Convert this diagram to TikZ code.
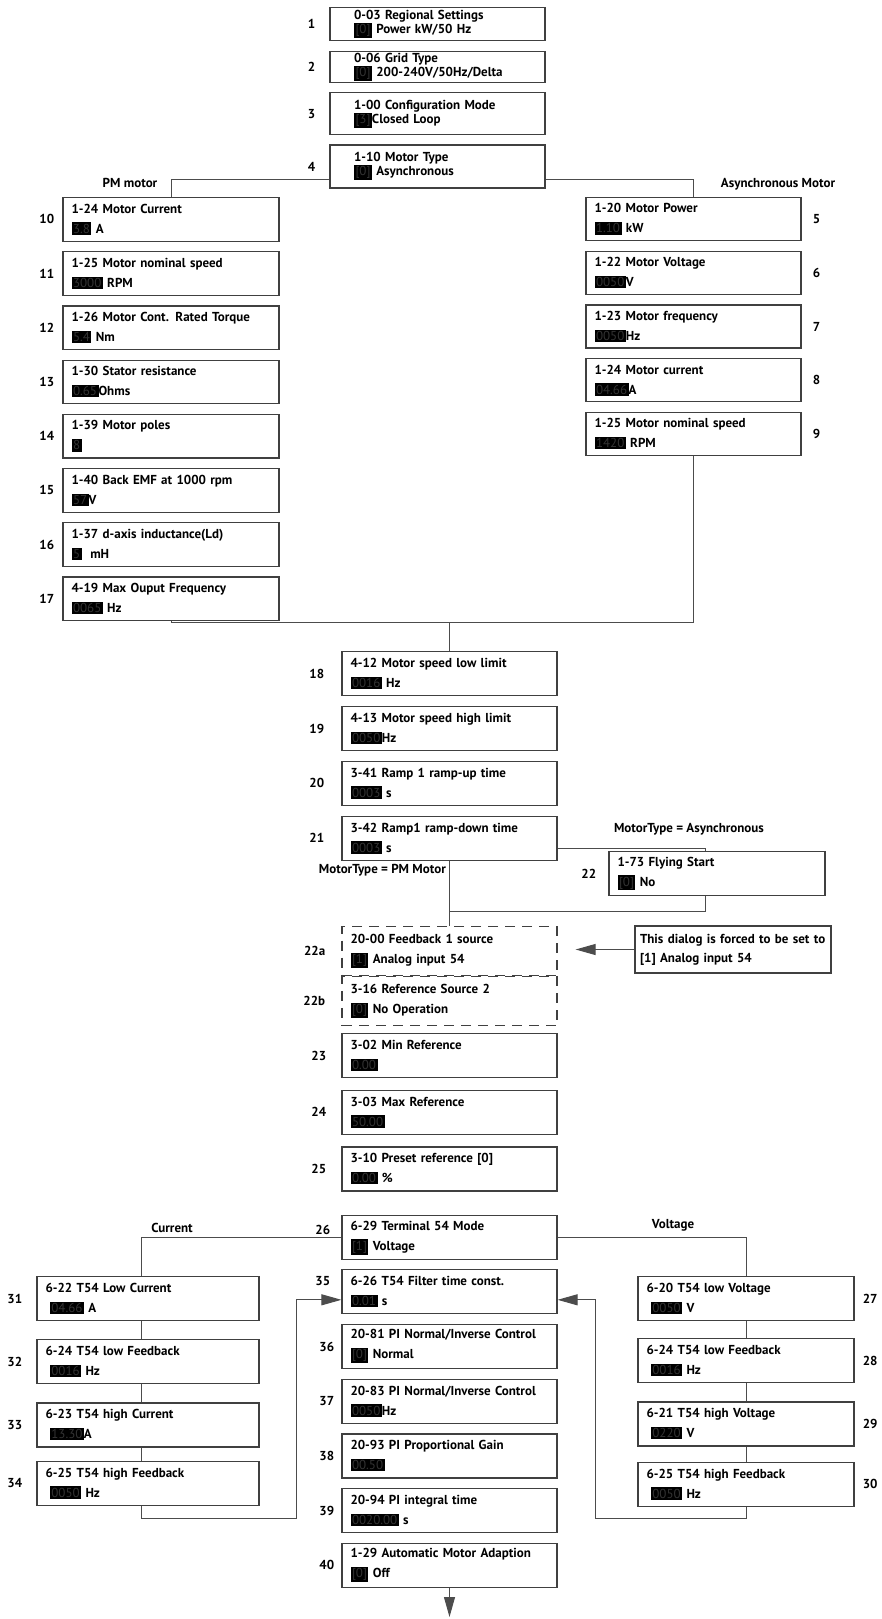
\documentclass[tikz,border=0pt]{standalone}
\usepackage{fontspec}
\setmainfont{PT Sans}
\usepackage{xcolor}
\usepackage{tikz}
\usetikzlibrary{arrows.meta,positioning}
\definecolor{valgray}{gray}{0.2}
\newcommand{\pval}[1]{{\setlength{\fboxsep}{1.5pt}\colorbox{black}{\textcolor{valgray}{\mdseries #1}}}}

\begin{document}
\begin{tikzpicture}[x=1pt, y=-1pt,
    pbox/.style={draw=black!75, line width=1.2pt, minimum height=43.5pt, text width=198pt, inner xsep=8.5pt, align=left, font=\bfseries\fontsize{13}{20}\selectfont},
    tbox/.style={pbox, text width=167pt, inner xsep=24pt, inner ysep=1.5pt, font=\bfseries\fontsize{13}{14}\selectfont},
    lbox/.style={pbox, text width=199pt},
    cbox/.style={pbox, text width=205pt, inner xsep=8.5pt},
    dbox/.style={pbox, dash pattern=on 10pt off 7pt, minimum height=49pt},
    num/.style={font=\bfseries\fontsize{13}{14}\selectfont, inner sep=0pt},
    tag/.style={font=\bfseries\fontsize{13}{14}\selectfont, inner sep=1pt},
    link/.style={draw=black!70, line width=1pt},
    arr/.style={link, -{Triangle[length=20pt,width=11pt]}}
]
    \useasboundingbox (0,0) rectangle (882,1619);

    \node[tbox, minimum height=33pt, anchor=north] (p1) at (437.5,7) {0-03 Regional Settings\\\pval{[0]} Power kW/50 Hz};
    \node[tbox, minimum height=30pt, below=10pt of p1] (p2) {0-06 Grid Type\\\pval{[0]} 200-240V/50Hz/Delta};
    \node[tbox, minimum height=42pt, below=9pt of p2] (p3) {1-00 Configuration Mode\\\pval{[3]}Closed Loop};
    \node[tbox, minimum height=43pt, below=9pt of p3] (p4) {1-10 Motor Type\\\pval{[0]} Asynchronous};

    \node[lbox, anchor=north] (p10) at (171,197) {1-24 Motor Current\\\pval{3.8} A};
    \node[lbox, below=9.5pt of p10] (p11) {1-25 Motor nominal speed\\\pval{3000}\ RPM};
    \node[lbox, below=9.5pt of p11] (p12) {1-26 Motor Cont. Rated Torque\\\pval{5.4} Nm};
    \node[lbox, below=9.5pt of p12] (p13) {1-30 Stator resistance\\\pval{0.65}Ohms};
    \node[lbox, below=9.5pt of p13] (p14) {1-39 Motor poles\\\pval{8}};
    \node[lbox, below=9.5pt of p14] (p15) {1-40 Back EMF at 1000 rpm\\\pval{57}V};
    \node[lbox, below=9.5pt of p15] (p16) {1-37 d-axis inductance(Ld)\\\pval{5}\ \ mH};
    \node[lbox, below=9.5pt of p16] (p17) {4-19 Max Ouput Frequency\\\pval{0065}\ Hz};

    \node[pbox, minimum height=43pt, anchor=north] (p5) at (693.5,197) {1-20 Motor Power\\\pval{1.10} kW};
    \node[pbox, minimum height=43pt, below=9.5pt of p5] (p6) {1-22 Motor Voltage\\\pval{0050}V};
    \node[pbox, minimum height=43pt, below=9.5pt of p6] (p7) {1-23 Motor frequency\\\pval{0050}Hz};
    \node[pbox, minimum height=43pt, below=9.5pt of p7] (p8) {1-24 Motor current\\\pval{04.66}A};
    \node[pbox, minimum height=43pt, below=9.5pt of p8] (p9) {1-25 Motor nominal speed\\\pval{1420} RPM};

    \node[pbox, minimum height=44pt, anchor=north] (p18) at (449.5,651) {4-12 Motor speed low limit\\\pval{0016} Hz};
    \node[pbox, minimum height=44pt, below=9.7pt of p18] (p19) {4-13 Motor speed high limit\\\pval{0050}Hz};
    \node[pbox, minimum height=44pt, below=9.7pt of p19] (p20) {3-41 Ramp 1 ramp-up time\\\pval{0003} s};
    \node[pbox, minimum height=44pt, below=9.7pt of p20] (p21) {3-42 Ramp1 ramp-down time\\\pval{0003} s};
    \node[pbox, minimum height=44pt, text width=199pt, anchor=north] (p22) at (717,851) {1-73 Flying Start\\\pval{[0]} No};
    \node[dbox, anchor=north] (p22a) at (449.5,926) {20-00 Feedback 1 source\\\pval{[1]} Analog input 54};
    \node[dbox, below=0pt of p22a] (p22b) {3-16 Reference Source 2\\\pval{[0]} No Operation};
    \node[pbox, minimum height=47pt, text width=186pt, inner xsep=5pt, font=\bfseries\fontsize{13}{19}\selectfont] (note) at (733,949.5) {This dialog is forced to be set to\\{[1]} Analog input 54};
    \node[pbox, minimum height=44pt, anchor=north] (p23) at (449.5,1033) {3-02 Min Reference\\\pval{0.00}};
    \node[pbox, minimum height=44pt, below=11.5pt of p23] (p24) {3-03 Max Reference\\\pval{50.00}};
    \node[pbox, minimum height=44pt, below=11.5pt of p24] (p25) {3-10 Preset reference [0]\\\pval{0.00} \%};

    \node[pbox, minimum height=44pt, anchor=north] (p26) at (449.5,1215) {6-29 Terminal 54 Mode\\\pval{[1]} Voltage};
    \node[pbox, minimum height=44pt, below=9pt of p26] (p35) {6-26 T54 Filter time const.\\\pval{0.01} s};
    \node[pbox, minimum height=44pt, below=9.5pt of p35] (p36) {20-81 PI Normal/Inverse Control\\\pval{[0]}\ Normal};
    \node[pbox, minimum height=44pt, below=9.5pt of p36] (p37) {20-83 PI Normal/Inverse Control\\\pval{0050}Hz};
    \node[pbox, minimum height=44pt, below=9.5pt of p37] (p38) {20-93 PI Proportional Gain\\\pval{00.50}};
    \node[pbox, minimum height=44pt, below=9.5pt of p38] (p39) {20-94 PI integral time\\\pval{0020.00} s};
    \node[pbox, minimum height=44pt, below=9.5pt of p39] (p40) {1-29 Automatic Motor Adaption\\\pval{[0]} Off};

    \node[cbox, minimum height=44pt, anchor=north] (p31) at (148,1276) {6-22 T54 Low Current\\\ \pval{04.66} A};
    \node[cbox, minimum height=44pt, below=18pt of p31] (p32) {6-24 T54 low Feedback\\\ \pval{0016}\ Hz};
    \node[cbox, minimum height=44pt, below=18pt of p32] (p33) {6-23 T54 high Current\\\ \pval{13.30}A};
    \node[cbox, minimum height=44pt, below=13pt of p33] (p34) {6-25 T54 high Feedback\\\ \pval{0050}\ Hz};

    \node[lbox, minimum height=44pt, anchor=north] (p27) at (746,1276) {6-20 T54 low Voltage\\\ \pval{0050} V};
    \node[lbox, minimum height=44pt, below=17pt of p27] (p28) {6-24 T54 low Feedback\\\ \pval{0016}\ Hz};
    \node[lbox, minimum height=44pt, below=18pt of p28] (p29) {6-21 T54 high Voltage\\\ \pval{0220} V};
    \node[lbox, minimum height=44pt, below=15pt of p29] (p30) {6-25 T54 high Feedback\\\ \pval{0050} Hz};

    \node[num, left=14pt of p1] (n1) {1};
    \node[num, left=14pt of p2] (n2) {2};
    \node[num, left=14pt of p3] (n3) {3};
    \node[num, left=14pt of p4] (n4) {4};
    \node[num, right=11pt of p5] (n5) {5};
    \node[num, right=11pt of p6] (n6) {6};
    \node[num, right=11pt of p7] (n7) {7};
    \node[num, right=11pt of p8] (n8) {8};
    \node[num, right=11pt of p9] (n9) {9};
    \node[num, left=8pt of p10] (n10) {10};
    \node[num, left=8pt of p11] (n11) {11};
    \node[num, left=8pt of p12] (n12) {12};
    \node[num, left=8pt of p13] (n13) {13};
    \node[num, left=8pt of p14] (n14) {14};
    \node[num, left=8pt of p15] (n15) {15};
    \node[num, left=8pt of p16] (n16) {16};
    \node[num, left=8pt of p17] (n17) {17};
    \node[num, left=17pt of p18] (n18) {18};
    \node[num, left=17pt of p19] (n19) {19};
    \node[num, left=17pt of p20] (n20) {20};
    \node[num, left=17pt of p21] (n21) {21};
    \node[num, left=12pt of p22] (n22) {22};
    \node[num, left=16pt of p22a] (n22a) {22a};
    \node[num, left=16pt of p22b] (n22b) {22b};
    \node[num, left=15pt of p23] (n23) {23};
    \node[num, left=15pt of p24] (n24) {24};
    \node[num, left=15pt of p25] (n25) {25};
    \node[num, anchor=east] (n26) at ([xshift=-11pt,yshift=8pt]p26.west) {26};
    \node[num, anchor=east] (n35) at ([xshift=-11pt,yshift=11pt]p35.west) {35};
    \node[num, left=7pt of p36] (n36) {36};
    \node[num, left=7pt of p37] (n37) {37};
    \node[num, left=7pt of p38] (n38) {38};
    \node[num, left=7pt of p39] (n39) {39};
    \node[num, left=7pt of p40] (n40) {40};
    \node[num, left=14pt of p31] (n31) {31};
    \node[num, left=14pt of p32] (n32) {32};
    \node[num, left=14pt of p33] (n33) {33};
    \node[num, left=14pt of p34] (n34) {34};
    \node[num, right=8pt of p27] (n27) {27};
    \node[num, right=8pt of p28] (n28) {28};
    \node[num, right=8pt of p29] (n29) {29};
    \node[num, right=8pt of p30] (n30) {30};

    \node[tag] (pmlbl) at (130,183) {PM motor};
    \node[tag] (aslbl) at (778,184) {Asynchronous Motor};
    \node[tag] (mtas) at (689,829) {MotorType = Asynchronous};
    \node[tag, anchor=east] (mtpm) at (447,870) {MotorType = PM Motor};
    \node[tag] (curlbl) at (172,1228) {Current};
    \node[tag] (vollbl) at (673,1225) {Voltage};

    \coordinate (join1) at (449.5,622);
    \coordinate (join2) at (449.5,911);
    \coordinate (lloop) at (296,1518);
    \coordinate (rloop) at (595,1518);
    \coordinate (out) at (449.5,1617);

    \draw[link] ([yshift=-13.5pt]p4.west) -| (p10.north);
    \draw[link] ([yshift=-13.5pt]p4.east) -| (p5.north);
    \draw[link] (p17.south) |- (join1);
    \draw[link] (p9.south) |- (join1);
    \draw[link] (join1) -- (p18.north);
    \draw[link] ([yshift=-10pt]p21.east) -| ([xshift=-12pt]p22.north);
    \draw[link] ([xshift=-12pt]p22.south) |- (join2);
    \draw[link] (p21.south) -- (p22a.north);
    \draw[arr, shorten >=18pt] (note.west) -- (note.west -| p22a.east);

    \draw[link] (p26.west) -| ([xshift=-7pt]p31.north);
    \draw[link] (p26.east) -| (p27.north);
    \draw[link] ([xshift=-7pt]p31.south) -- ([xshift=-7pt]p32.north);
    \draw[link] ([xshift=-7pt]p32.south) -- ([xshift=-7pt]p33.north);
    \draw[link] ([xshift=-7pt]p33.south) -- ([xshift=-7pt]p34.north);
    \draw[link] (p27.south) -- (p28.north);
    \draw[link] (p28.south) -- (p29.north);
    \draw[link] (p29.south) -- (p30.north);
    \draw[arr] ([xshift=-7pt]p34.south) |- (lloop) |- ([yshift=-8pt]p35.west);
    \draw[arr] (p30.south) |- (rloop) |- ([yshift=-8pt]p35.east);
    \draw[arr] (p40.south) -- (out);
\end{tikzpicture}
\end{document}
